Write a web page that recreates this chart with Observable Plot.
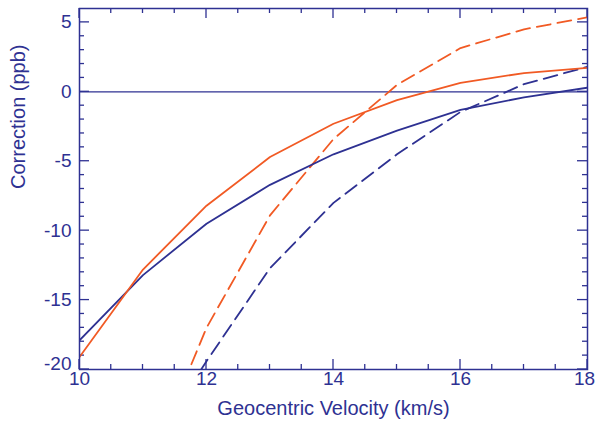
<!DOCTYPE html>
<html>
<head>
<meta charset="utf-8">
<script src="https://cdn.jsdelivr.net/npm/d3@7"></script>
<script src="https://cdn.jsdelivr.net/npm/@observablehq/plot@0.6"></script>
<style>
  html, body { margin: 0; padding: 0; background: #fff; }
  #chart { width: 595px; height: 428px; }
</style>
</head>
<body>
<div id="chart"></div>
<script>
// Velocity grid (km/s)
const velocity = [10, 11, 12, 13, 14, 15, 16, 17, 18];

// Correction (ppb) for each series
const blueSolid  = [-17.9, -13.2, -9.5, -6.7, -4.5, -2.8, -1.3, -0.4, 0.3];
const redSolid   = [-19.1, -12.8, -8.2, -4.7, -2.3, -0.6, 0.65, 1.35, 1.73];
const dashedVelocity = [11, 12, 13, 14, 15, 16, 17, 18];
const redDashed  = [-28.0, -17.0, -8.9, -3.4, 0.5, 3.15, 4.5, 5.37];
const blueDashed = [-26.5, -19.4, -12.7, -8.0, -4.5, -1.45, 0.55, 1.8];

// Axis ticks
const xMajor = [10, 12, 14, 16, 18];
const xMinor = [10.5, 11, 11.5, 12.5, 13, 13.5, 14.5, 15, 15.5, 16.5, 17, 17.5];
const yMajor = [-20, -15, -10, -5, 0, 5];
const yMinor = [-19, -18, -17, -16, -14, -13, -12, -11, -9, -8, -7, -6, -4, -3, -2, -1, 1, 2, 3, 4];

const navy = "#2e3192";
const orange = "#f15a24";

const W = 595, H = 428;
const mL = 79, mR = 8, mT = 8, mB = 59;
const major = 10, minor = 5;

const rows = (xs, ys) => xs.map((x, i) => ({x, y: ys[i]}));

// inward tick marks on each side of the frame, placed with the plot's scales
function tickMarks(values, len, side) {
  return (index, scales, channels, dims) => {
    const g = d3.create("svg:g").attr("stroke", navy).attr("stroke-width", 1.3);
    const {width, height, marginLeft, marginRight, marginTop, marginBottom} = dims;
    for (const v of values) {
      if (side === "bottom" || side === "top") {
        const px = scales.x(v);
        const y0 = side === "bottom" ? height - marginBottom : marginTop;
        const y1 = side === "bottom" ? y0 - len : y0 + len;
        g.append("line").attr("x1", px).attr("x2", px).attr("y1", y0).attr("y2", y1);
      } else {
        const py = scales.y(v);
        const x0 = side === "left" ? marginLeft : width - marginRight;
        const x1 = side === "left" ? x0 + len : x0 - len;
        g.append("line").attr("x1", x0).attr("x2", x1).attr("y1", py).attr("y2", py);
      }
    }
    return g.node();
  };
}

const font = "'Liberation Sans', Arial, Helvetica, sans-serif";
const dash = "14,7";

const chart = Plot.plot({
  width: W,
  height: H,
  marginLeft: mL,
  marginRight: mR,
  marginTop: mT,
  marginBottom: mB,
  style: {fontFamily: font, color: navy, background: "#fff"},
  x: {domain: [10, 18], axis: null},
  y: {domain: [-20, 6], axis: null},
  marks: [
    tickMarks(xMajor, major, "bottom"), tickMarks(xMinor, minor, "bottom"),
    tickMarks(xMajor, major, "top"), tickMarks(xMinor, minor, "top"),
    tickMarks(yMajor, major, "left"), tickMarks(yMinor, minor, "left"),
    tickMarks(yMajor, major, "right"), tickMarks(yMinor, minor, "right"),
    // zero line
    Plot.ruleY([0], {stroke: navy, strokeWidth: 1.3}),
    // series
    Plot.line(rows(dashedVelocity, blueDashed), {x: "x", y: "y", stroke: navy, strokeWidth: 1.8, strokeDasharray: dash, clip: true}),
    Plot.line(rows(dashedVelocity, redDashed), {x: "x", y: "y", stroke: orange, strokeWidth: 1.8, strokeDasharray: dash, clip: true}),
    Plot.line(rows(velocity, blueSolid), {x: "x", y: "y", stroke: navy, strokeWidth: 1.8, clip: true}),
    Plot.line(rows(velocity, redSolid), {x: "x", y: "y", stroke: orange, strokeWidth: 1.8, clip: true}),
    Plot.frame({stroke: navy, strokeWidth: 1.5}),
    // x tick labels (the last one nudged inside the page)
    Plot.text(xMajor.slice(0, -1), {x: d => d, frameAnchor: "bottom", dy: 15, fill: navy, fontSize: 19}),
    Plot.text(xMajor.slice(-1), {x: d => d, frameAnchor: "bottom", dy: 15, dx: -3, fill: navy, fontSize: 19}),
    // y tick labels (the lowest one lifted off the corner)
    Plot.text(yMajor.slice(1), {y: d => d, frameAnchor: "left", dx: -8, textAnchor: "end", fill: navy, fontSize: 19}),
    Plot.text(yMajor.slice(0, 1), {y: d => d, frameAnchor: "left", dx: -8, dy: -6, textAnchor: "end", fill: navy, fontSize: 19}),
    // axis titles
    Plot.text(["Geocentric Velocity (km/s)"], {frameAnchor: "bottom", dy: 45, fill: navy, fontSize: 20}),
    Plot.text(["Correction (ppb)"], {frameAnchor: "left", dx: -61, rotate: -90, fill: navy, fontSize: 20})
  ]
});

document.getElementById("chart").append(chart);
</script>
</body>
</html>
